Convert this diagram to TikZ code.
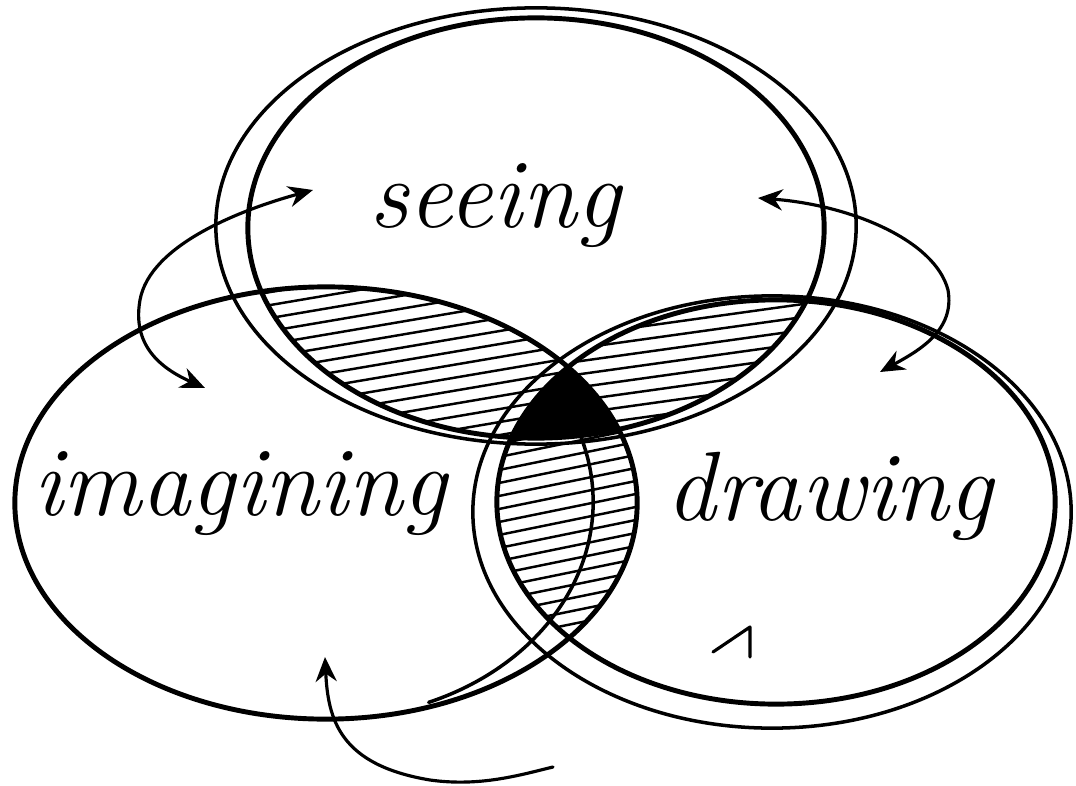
\documentclass[tikz,border=0pt]{standalone}
\usetikzlibrary{arrows.meta}
\begin{document}
\begin{tikzpicture}[x=0.01cm,y=-0.01cm,line cap=round,line join=round,
  mainline/.style={line width=1.4pt,black},
  secondline/.style={line width=1.0pt,black},
  hatchline/.style={line width=0.7pt,black},
  arrowline/.style={line width=0.9pt,black},
  label/.style={font=\itshape\fontsize{28}{32}\selectfont,anchor=base,inner sep=0pt}]
\useasboundingbox (0,0) rectangle (1076,785);
\def\seeingE{(536,228) ellipse [x radius=2.88cm, y radius=2.10cm]}
\def\imagE{(326,503) ellipse [x radius=3.11cm, y radius=2.16cm]}
\def\drawE{(776,502) ellipse [x radius=2.79cm, y radius=2.02cm]}
% hatching of the pairwise overlaps
\begin{scope}
  \clip \seeingE; \clip \imagE;
  \foreach \k in {-10,...,70} \draw[hatchline] (0,\k*13) -- (1076,\k*13-183);
\end{scope}
\begin{scope}
  \clip \seeingE; \clip \drawE;
  \foreach \k in {-10,...,70} \draw[hatchline] (0,\k*13) -- (1076,\k*13-150);
\end{scope}
\begin{scope}
  \clip \imagE; \clip \drawE;
  \foreach \k in {-10,...,90} \draw[hatchline] (0,\k*13) -- (1076,\k*13-220);
\end{scope}
% triple overlap
\begin{scope}
  \clip \seeingE; \clip \imagE; \fill[black] \drawE;
\end{scope}
% outlines
\draw[mainline] \seeingE;
\draw[mainline] \imagE;
\draw[mainline] \drawE;
\draw[secondline] (536,226) ellipse [x radius=3.20cm, y radius=2.18cm];
\draw[secondline] (772,512) ellipse [x radius=2.99cm, y radius=2.16cm];
\draw[secondline] ([shift={(330,502)}]-68:2.63cm and 2.16cm) arc[start angle=-68, end angle=30, x radius=2.63cm, y radius=2.16cm];
% labels
\node[label] (seeing) at (495,228) {seeing};
\node[label] (imagining) at (240,515) {imagining};
\node[label] (drawing) at (830,520) {drawing};
% arrows
\coordinate (a1s) at (313,190);
\coordinate (a1m) at (140,300);
\coordinate (a1e) at (205,388);
\draw[arrowline,{Stealth[length=7pt,width=6pt]}-{Stealth[length=7pt,width=6pt]}]
  (a1s) .. controls (240,210) and (150,245) .. (a1m) .. controls (132,345) and (160,368) .. (a1e);
\coordinate (a2s) at (758,198);
\coordinate (a2m) at (948,290);
\coordinate (a2e) at (880,372);
\draw[arrowline,{Stealth[length=7pt,width=6pt]}-{Stealth[length=7pt,width=6pt]}]
  (a2s) .. controls (850,205) and (935,240) .. (a2m) .. controls (955,330) and (920,350) .. (a2e);
\coordinate (a3s) at (325,657);
\coordinate (a3m) at (430,780);
\coordinate (a3e) at (553,767);
\draw[arrowline,{Stealth[length=7pt,width=6pt]}-]
  (a3s) .. controls (328,720) and (340,765) .. (a3m) .. controls (480,787) and (520,775) .. (a3e);
\coordinate (m1) at (713,652);
\coordinate (m2) at (750,627);
\coordinate (m3) at (750,657);
\draw[arrowline] (m1) -- (m2) -- (m3);
\end{tikzpicture}
\end{document}
